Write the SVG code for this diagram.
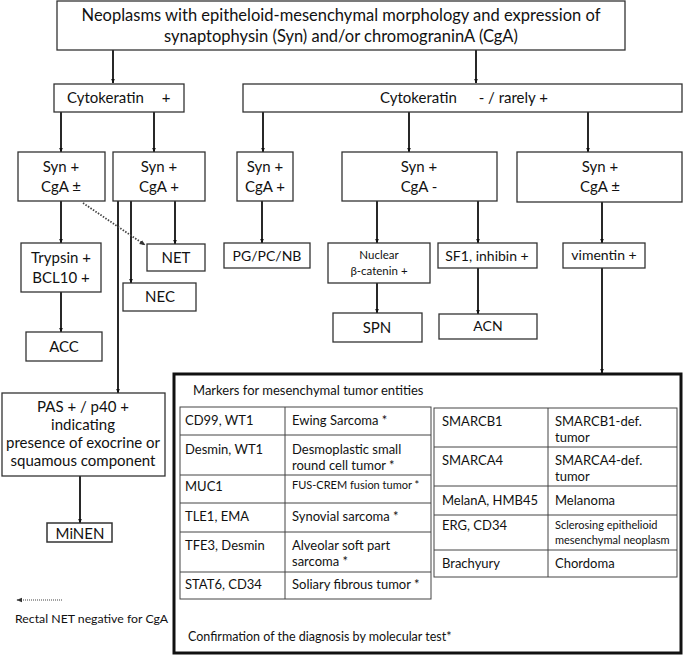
<svg xmlns="http://www.w3.org/2000/svg" width="685" height="659" viewBox="0 0 685 659">
<defs>
<marker id="ah" viewBox="0 0 10 10" refX="9" refY="5" markerWidth="5" markerHeight="5" orient="auto" markerUnits="userSpaceOnUse">
<path d="M0,1 L10,5 L0,9 z" fill="#111"/>
</marker>
<marker id="ahd" viewBox="0 0 10 10" refX="9" refY="5" markerWidth="6" markerHeight="6" orient="auto" markerUnits="userSpaceOnUse">
<path d="M0,1 L10,5 L0,9 z" fill="#333"/>
</marker>
<style>
text{font-family:Lato,"Open Sans","Liberation Sans",sans-serif;fill:#111}
.b{fill:#fff;stroke:#333;stroke-width:1.3}
.t{font-size:15px;text-anchor:middle}
.m{font-size:14px;text-anchor:middle}
.s{font-size:11.5px;text-anchor:middle}
.c{font-size:13px}
.cs{font-size:11px}
.l{fill:none;stroke:#111;stroke-width:1.8}
.d{fill:none;stroke:#444;stroke-width:1.8;stroke-dasharray:1.5 1.5}
.g{fill:none;stroke:#444;stroke-width:1}
</style>
</defs>
<rect width="685" height="659" fill="#fff"/>

<g id="connectors">
<line class="l" x1="113" y1="50" x2="113" y2="83" marker-end="url(#ah)"/>
<line class="l" x1="476" y1="50" x2="476" y2="83" marker-end="url(#ah)"/>
<line class="l" x1="61" y1="112" x2="61" y2="152" marker-end="url(#ah)"/>
<line class="l" x1="154" y1="112" x2="154" y2="152" marker-end="url(#ah)"/>
<line class="l" x1="263" y1="112" x2="263" y2="152" marker-end="url(#ah)"/>
<line class="l" x1="409" y1="112" x2="409" y2="152" marker-end="url(#ah)"/>
<line class="l" x1="588" y1="112" x2="588" y2="152" marker-end="url(#ah)"/>
<line class="l" x1="61" y1="201" x2="61" y2="243" marker-end="url(#ah)"/>
<line class="l" x1="61" y1="292" x2="61" y2="332" marker-end="url(#ah)"/>
<line class="l" x1="118" y1="201" x2="118" y2="393" marker-end="url(#ah)"/>
<line class="l" x1="131" y1="201" x2="131" y2="283" marker-end="url(#ah)"/>
<line class="l" x1="175" y1="201" x2="175" y2="244" marker-end="url(#ah)"/>
<line class="d" x1="83" y1="203" x2="145" y2="245" marker-end="url(#ahd)"/>
<line class="l" x1="262" y1="201" x2="262" y2="243" marker-end="url(#ah)"/>
<line class="l" x1="377" y1="201" x2="377" y2="243" marker-end="url(#ah)"/>
<line class="l" x1="478" y1="201" x2="478" y2="243" marker-end="url(#ah)"/>
<line class="l" x1="602" y1="202" x2="602" y2="243" marker-end="url(#ah)"/>
<line class="l" x1="377" y1="283" x2="377" y2="313" marker-end="url(#ah)"/>
<line class="l" x1="478" y1="268" x2="478" y2="314" marker-end="url(#ah)"/>
<line class="l" x1="602" y1="268" x2="602" y2="373" marker-end="url(#ah)"/>
<line class="l" x1="80" y1="476" x2="80" y2="523" marker-end="url(#ah)"/>
</g>

<g id="top">
<rect class="b" x="57" y="1" width="568" height="49"/>
<text class="t" x="341" y="21" style="font-size:16.5px">Neoplasms with epitheloid-mesenchymal morphology and expression of</text>
<text class="t" x="341" y="42" style="font-size:16.5px">synaptophysin (Syn) and/or chromograninA (CgA)</text>
</g>
<g id="ckpos">
<rect class="b" x="54" y="84" width="130" height="28"/>
<text class="t" x="67" y="103" style="text-anchor:start">Cytokeratin</text>
<text class="t" x="166" y="103">+</text>
</g>
<g id="ckneg">
<rect class="b" x="243" y="84" width="439" height="28"/>
<text class="t" x="380" y="103" style="text-anchor:start">Cytokeratin</text>
<text class="t" x="548" y="103" style="text-anchor:end">- / rarely +</text>
</g>

<g id="syn1">
<rect class="b" x="18" y="152" width="87" height="49"/>
<text class="t" x="61" y="172">Syn +</text>
<text class="t" x="61" y="192">CgA ±</text>
</g>
<g id="syn2">
<rect class="b" x="113" y="152" width="92" height="49"/>
<text class="t" x="159" y="172">Syn +</text>
<text class="t" x="159" y="192">CgA +</text>
</g>
<g id="syn3">
<rect class="b" x="237" y="152" width="56" height="49"/>
<text class="t" x="265" y="172">Syn +</text>
<text class="t" x="265" y="192">CgA +</text>
</g>
<g id="syn4">
<rect class="b" x="342" y="152" width="155" height="49"/>
<text class="t" x="419" y="172">Syn +</text>
<text class="t" x="419" y="192">CgA -</text>
</g>
<g id="syn5">
<rect class="b" x="517" y="152" width="165" height="50"/>
<text class="t" x="600" y="172">Syn +</text>
<text class="t" x="600" y="192">CgA ±</text>
</g>

<g id="trypsin">
<rect class="b" x="21" y="243" width="80" height="49"/>
<text class="t" x="61" y="263">Trypsin +</text>
<text class="t" x="61" y="283">BCL10 +</text>
</g>
<g id="net">
<rect class="b" x="147" y="244" width="58" height="27"/>
<text class="t" x="176" y="263">NET</text>
</g>
<g id="nec">
<rect class="b" x="123" y="283" width="73" height="28"/>
<text class="t" x="160" y="302">NEC</text>
</g>
<g id="acc">
<rect class="b" x="26" y="332" width="76" height="29"/>
<text class="t" x="64" y="352">ACC</text>
</g>
<g id="pgpcnb">
<rect class="b" x="224" y="243" width="86" height="25"/>
<text class="m" x="267" y="261">PG/PC/NB</text>
</g>
<g id="catenin">
<rect class="b" x="328" y="243" width="102" height="40"/>
<text class="s" x="379" y="259">Nuclear</text>
<text class="s" x="379" y="275">β-catenin +</text>
</g>
<g id="sf1">
<rect class="b" x="438" y="243" width="99" height="25"/>
<text class="m" x="487" y="261">SF1, inhibin +</text>
</g>
<g id="vimentin">
<rect class="b" x="563" y="243" width="82" height="25"/>
<text class="m" x="604" y="260">vimentin +</text>
</g>
<g id="spn">
<rect class="b" x="333" y="313" width="89" height="29"/>
<text class="t" x="377" y="333">SPN</text>
</g>
<g id="acn">
<rect class="b" x="439" y="314" width="98" height="25"/>
<text class="m" x="488" y="331">ACN</text>
</g>

<g id="pas">
<rect class="b" x="2" y="393" width="163" height="83"/>
<text class="t" x="83" y="412">PAS + / p40 +</text>
<text class="t" x="83" y="430">indicating</text>
<text class="t" x="83" y="448">presence of exocrine or</text>
<text class="t" x="83" y="466">squamous component</text>
</g>
<g id="minen">
<rect class="b" x="47" y="523" width="65" height="19" style="stroke-width:1.5"/>
<text class="t" x="80" y="539">MiNEN</text>
</g>

<g id="legend">
<line class="d" x1="62" y1="600" x2="17" y2="600" style="stroke-width:1.2;stroke-dasharray:1 1" marker-end="url(#ahd)"/>
<text class="c" x="15" y="623" style="font-size:12.3px">Rectal NET negative for CgA</text>
</g>

<g id="markers">
<rect x="174" y="374" width="507" height="279" fill="#fff" stroke="#111" stroke-width="3"/>
<text class="c" x="193" y="395">Markers for mesenchymal tumor entities</text>
<g id="lefttable">
<rect class="g" x="180" y="407" width="251" height="192"/>
<line class="g" x1="285" y1="407" x2="285" y2="599"/>
<line class="g" x1="180" y1="435" x2="431" y2="435"/>
<line class="g" x1="180" y1="475" x2="431" y2="475"/>
<line class="g" x1="180" y1="503" x2="431" y2="503"/>
<line class="g" x1="180" y1="532" x2="431" y2="532"/>
<line class="g" x1="180" y1="572" x2="431" y2="572"/>
<text class="c" x="185" y="425">CD99, WT1</text>
<text class="c" x="292" y="425">Ewing Sarcoma *</text>
<text class="c" x="185" y="454">Desmin, WT1</text>
<text class="c" x="292" y="454">Desmoplastic small</text>
<text class="c" x="292" y="470">round cell tumor *</text>
<text class="c" x="185" y="491">MUC1</text>
<text class="cs" x="292" y="489">FUS-CREM fusion tumor *</text>
<text class="c" x="185" y="521">TLE1, EMA</text>
<text class="c" x="292" y="521">Synovial sarcoma *</text>
<text class="c" x="185" y="550">TFE3, Desmin</text>
<text class="c" x="292" y="550">Alveolar soft part</text>
<text class="c" x="292" y="566">sarcoma *</text>
<text class="c" x="185" y="589">STAT6, CD34</text>
<text class="c" x="292" y="589">Soliary fibrous tumor *</text>
</g>
<g id="righttable">
<rect class="g" x="434" y="408" width="243" height="169"/>
<line class="g" x1="548" y1="408" x2="548" y2="577"/>
<line class="g" x1="434" y1="447" x2="677" y2="447"/>
<line class="g" x1="434" y1="486" x2="677" y2="486"/>
<line class="g" x1="434" y1="515" x2="677" y2="515"/>
<line class="g" x1="434" y1="550" x2="677" y2="550"/>
<text class="c" x="442" y="426">SMARCB1</text>
<text class="c" x="555" y="426">SMARCB1-def.</text>
<text class="c" x="555" y="442">tumor</text>
<text class="c" x="442" y="465">SMARCA4</text>
<text class="c" x="555" y="465">SMARCA4-def.</text>
<text class="c" x="555" y="481">tumor</text>
<text class="c" x="442" y="505">MelanA, HMB45</text>
<text class="c" x="555" y="505">Melanoma</text>
<text class="cs" x="555" y="529">Sclerosing epithelioid</text>
<text class="c" x="442" y="530">ERG, CD34</text>
<text class="cs" x="555" y="544">mesenchymal neoplasm</text>
<text class="c" x="442" y="568">Brachyury</text>
<text class="c" x="555" y="568">Chordoma</text>
</g>
<text class="c" x="188" y="641" style="font-size:12.5px">Confirmation of the diagnosis by molecular test*</text>
</g>
</svg>
